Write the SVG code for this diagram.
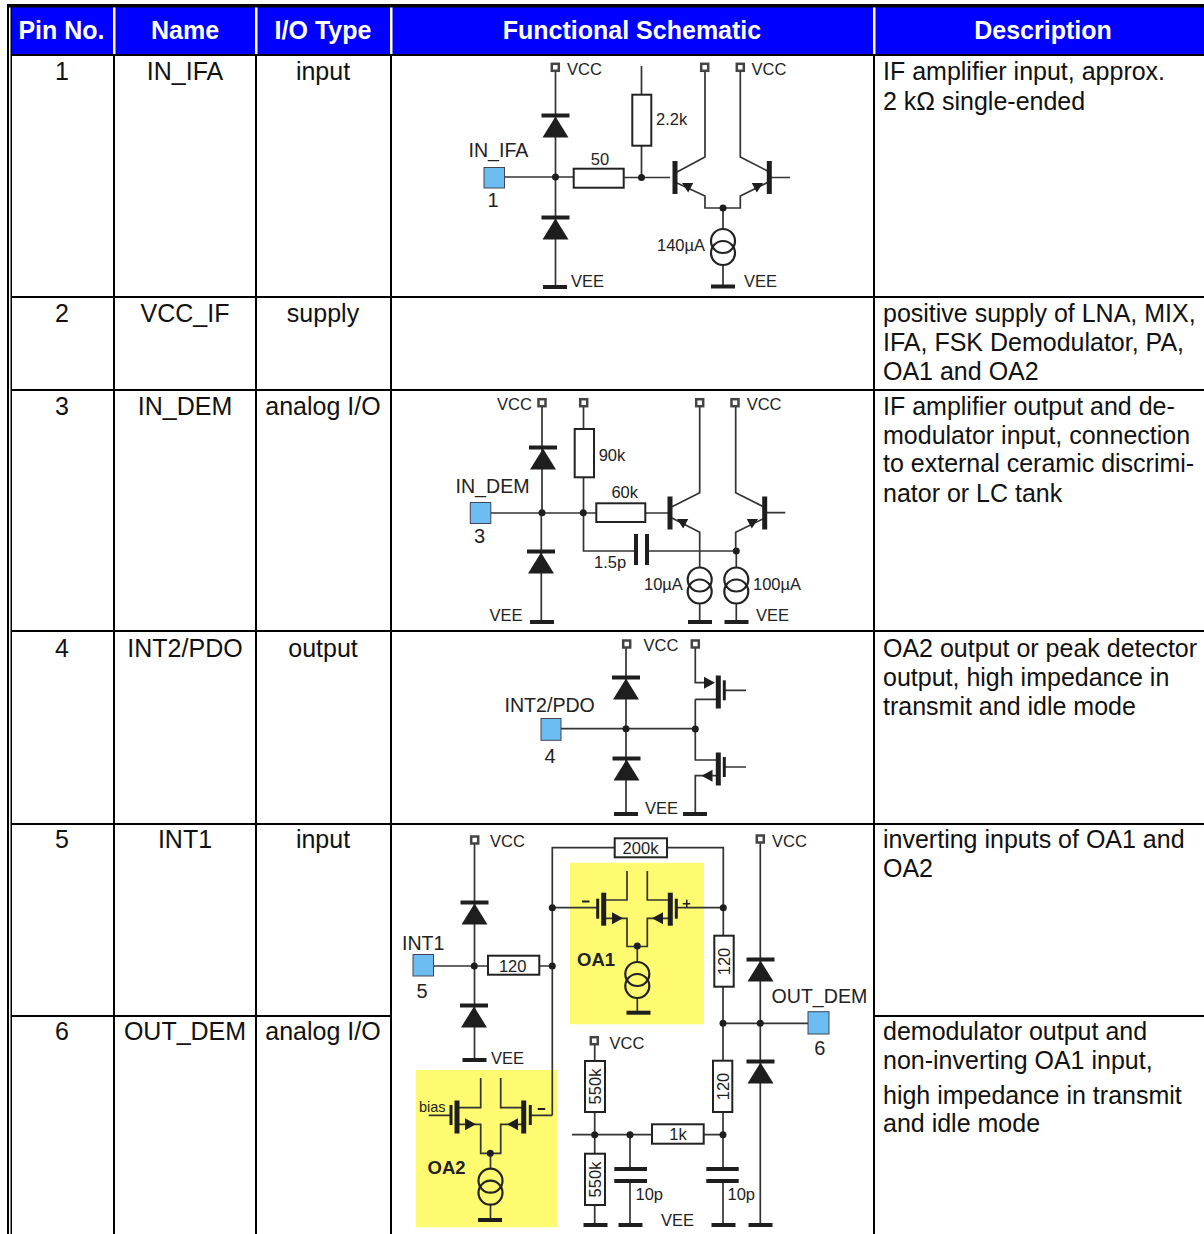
<svg xmlns="http://www.w3.org/2000/svg" width="1204" height="1234" viewBox="0 0 1204 1234">
<style>
text{font-family:"Liberation Sans",Arial,sans-serif;fill:#222}
.t{font-size:25px;fill:#111}
.m{text-anchor:middle}
.h{font-size:25px;font-weight:700;fill:#fff;text-anchor:middle}
.s{font-size:16.500px}
.l{font-size:19.600px}
.n{font-size:20px}
.b{font-size:18.500px;font-weight:700}
.w{fill:none;stroke:#333;stroke-width:1.700}
.r{fill:#fff;stroke:#222;stroke-width:2}
.p{fill:#6bbdf2;stroke:#445;stroke-width:1}
.k{fill:#1e1e1e}
.y{fill:#fffb70}
</style>
<defs>
<g id="diode"><rect x="-14" y="-2" width="28" height="4" class="k"/><path d="M0 1L13 22H-13Z" class="k"/></g>
<g id="cs"><circle cx="0" cy="0" r="12" fill="none" stroke="#222" stroke-width="2.200"/><circle cx="0" cy="12" r="12" fill="none" stroke="#222" stroke-width="2.200"/></g>
<circle id="dot" cx="0" cy="0" r="3.500" class="k"/>
<rect id="vcc" x="-3.500" y="-3.500" width="7" height="7" fill="#fff" stroke="#444" stroke-width="2.500"/>
<rect id="gnd" x="-12" y="-2" width="24" height="4" class="k"/>
<rect id="tb" x="-2.500" y="-16" width="5" height="33" class="k"/>
<rect id="gb" x="-1.500" y="-10" width="3" height="20" class="k"/>
<path id="arr" d="M0 0L11 -6V6Z" class="k"/>
<path id="arrR" d="M0 0L-11 -6V6Z" class="k"/>
</defs>
<rect width="1204" height="1234" fill="#fff"/>
<g id="table">
<rect x="11" y="7" width="1193" height="47" fill="#0000ff"/>
<g fill="#fff"><rect x="113" y="7" width="2.500" height="47"/><rect x="255" y="7" width="2.500" height="47"/><rect x="390" y="7" width="2.500" height="47"/><rect x="873" y="7" width="2.500" height="47"/></g>
<g fill="#000">
<rect x="7" y="4" width="1197" height="3.500"/>
<rect x="7" y="4" width="2" height="1230"/><rect x="10.500" y="4" width="1.500" height="1230"/>
<rect x="11" y="54" width="1193" height="2"/>
<rect x="11" y="296" width="1193" height="2"/><rect x="11" y="389" width="1193" height="2"/><rect x="11" y="630" width="1193" height="2"/><rect x="11" y="823" width="1193" height="2"/>
<rect x="11" y="1015" width="380" height="2"/><rect x="874" y="1015" width="330" height="2"/>
<rect x="113" y="55" width="2" height="1179"/><rect x="255" y="55" width="2" height="1179"/><rect x="390" y="55" width="2" height="1179"/><rect x="873" y="55" width="2" height="1179"/>
</g>
<text class="h" x="61.500" y="39">Pin No.</text><text class="h" x="185" y="39">Name</text><text class="h" x="323" y="39">I/O Type</text><text class="h" x="632" y="39">Functional Schematic</text><text class="h" x="1043" y="39">Description</text>
<g id="table-body" transform="translate(0 1)">
<text class="t m" x="62" y="79">1</text><text class="t m" x="185" y="79">IN_IFA</text><text class="t m" x="323" y="79">input</text>
<text class="t m" x="62" y="321">2</text><text class="t m" x="185" y="321">VCC_IF</text><text class="t m" x="323" y="321">supply</text>
<text class="t m" x="62" y="414">3</text><text class="t m" x="185" y="414">IN_DEM</text><text class="t m" x="323" y="414">analog I/O</text>
<text class="t m" x="62" y="656">4</text><text class="t m" x="185" y="656">INT2/PDO</text><text class="t m" x="323" y="656">output</text>
<text class="t m" x="62" y="847">5</text><text class="t m" x="185" y="847">INT1</text><text class="t m" x="323" y="847">input</text>
<text class="t m" x="62" y="1039">6</text><text class="t m" x="185" y="1039">OUT_DEM</text><text class="t m" x="323" y="1039">analog I/O</text>
<text class="t" x="883" y="79">IF amplifier input, approx.</text><text class="t" x="883" y="109">2 kΩ single-ended</text>
<text class="t" x="883" y="321">positive supply of LNA, MIX,</text><text class="t" x="883" y="350">IFA, FSK Demodulator, PA,</text><text class="t" x="883" y="379">OA1 and OA2</text>
<text class="t" x="883" y="414">IF amplifier output and de-</text><text class="t" x="883" y="443">modulator input, connection</text><text class="t" x="883" y="471">to external ceramic discrimi-</text><text class="t" x="883" y="501">nator or LC tank</text>
<text class="t" x="883" y="656">OA2 output or peak detector</text><text class="t" x="883" y="685">output, high impedance in</text><text class="t" x="883" y="714">transmit and idle mode</text>
<text class="t" x="883" y="847">inverting inputs of OA1 and</text><text class="t" x="883" y="876">OA2</text>
<text class="t" x="883" y="1039">demodulator output and</text><text class="t" x="883" y="1068">non-inverting OA1 input,</text><text class="t" x="883" y="1103">high impedance in transmit</text><text class="t" x="883" y="1131">and idle mode</text>
</g>
</g>
<g id="amp-backgrounds">
<rect class="y" x="570" y="862.700" width="134" height="161.600"/>
<rect class="y" x="415.700" y="1070" width="141.300" height="157.300"/>
</g>
<g id="connectors">
<path class="w" d="M555.500 72V287M505 177H573M624 177.500H670M641.500 66V95M641.500 146V177.500M677 172L705 157V72M677 183L705 196V208H740.300V196L769 181.700M769 171.700L740.300 157V72M771 177.500H790M723 208V229M723 265V286"/>
<path class="w" d="M542 406V513M541.300 513V622M491 513H596M583.500 406V429M583.500 477V551H635M647 551H736.300M645 513H670M672 506.700L699.700 492.700V406.700M672 518L699.700 532.300V568M699.700 603V622M735.700 406.700V492.700L764.700 507.300M764.700 518L735.700 532.300V551M736.300 551V568M736.300 603V622M767 512.700H785.300"/>
<path class="w" d="M626 648V814M561 728.700H695.300M695.300 648V682.700H710M695.300 699.300H717M695.300 699.300V760H717M724 690.300H746M717 775.700H695.300V814M724 767H746"/>
<path class="w" d="M474.500 844V1060M434 966H488M539 966H552.300M552.300 1115.300V847.700H615M667 847.700H723.300V936M723 987V1061M723 1112V1169M723 1181V1224M552.300 907.700H597M676 907.700H723.300M604 900H627V871M604 918.300H627V946.500H647.300V918.300H670M670 900H647.300V871M637.300 946.500V962M637.300 998V1012M723 1023.300H808M760.300 843V1224"/>
<path class="w" d="M428.700 1115.300H451M457 1107.700H480.700V1078M457 1124.300H480.700V1153.300H500.700V1124.300H523.700M523.700 1107.700H500.700V1078M490.500 1153.300V1168M490.500 1205V1220M530 1115.300H552.300M594.700 1045V1061M594.700 1112V1154M594.700 1205V1225M572 1134.700H652M704 1134.700H723M630 1134.700V1169M630 1181V1225"/>
</g>
<g id="schematic-1">
<use href="#vcc" x="555.300" y="67.300"/><use href="#vcc" x="704.700" y="67.300"/><use href="#vcc" x="740.300" y="67.300"/>
<use href="#diode" x="555.500" y="115.500"/><use href="#diode" x="555.500" y="217.500"/><use href="#gnd" x="555" y="287"/><use href="#gnd" x="723" y="286.500"/>
<rect class="p" x="484" y="167.500" width="20.500" height="20.500"/><rect class="r" x="573.700" y="168.700" width="50" height="19"/><rect class="r" x="632.300" y="94.700" width="19" height="51"/>
<use href="#dot" x="555.500" y="177"/><use href="#dot" x="641.500" y="177.500"/><use href="#dot" x="723" y="208"/>
<use href="#tb" x="675" y="177"/><use href="#tb" x="769.300" y="177"/><use href="#arr" transform="translate(682 183) rotate(28) scale(.9)"/><use href="#arr" transform="translate(763 183) rotate(152) scale(.9)"/>
<use href="#cs" x="723" y="241"/>
<text class="s" x="567" y="75">VCC</text><text class="s" x="751.500" y="75">VCC</text><text class="s" x="656" y="125">2.2k</text><text class="l" x="468.500" y="157">IN_IFA</text><text class="s m" x="600" y="165">50</text><text class="n m" x="493" y="207">1</text><text class="s" x="657" y="251">140µA</text><text class="s" x="571" y="287">VEE</text><text class="s" x="744" y="287">VEE</text>
</g>
<g id="schematic-3">
<use href="#vcc" x="542" y="402.700"/><use href="#vcc" x="583.700" y="402.700"/><use href="#vcc" x="699.700" y="402.700"/><use href="#vcc" x="735" y="402.700"/>
<use href="#diode" x="543" y="447.500"/><use href="#diode" x="541" y="551.500"/><use href="#gnd" x="542" y="622"/><use href="#gnd" x="700" y="622"/><use href="#gnd" x="736.500" y="622"/>
<rect class="p" x="470.300" y="502.500" width="20.500" height="21"/><rect class="r" x="574.700" y="429" width="19.300" height="48.300"/><rect class="r" x="596.300" y="503.300" width="49" height="18.700"/>
<use href="#dot" x="542" y="512.700"/><use href="#dot" x="583.300" y="512.700"/><use href="#dot" x="736.300" y="551"/>
<rect class="k" x="634" y="534" width="4" height="31"/><rect class="k" x="645" y="534" width="4" height="31"/>
<use href="#tb" x="670" y="512.500"/><use href="#tb" x="764.700" y="512.500"/><use href="#arr" transform="translate(677 519) rotate(28) scale(.9)"/><use href="#arr" transform="translate(758 519) rotate(152) scale(.9)"/>
<use href="#cs" x="699.700" y="579.500"/><use href="#cs" x="736.300" y="579.500"/>
<text class="s" x="497" y="410">VCC</text><text class="s" x="746.700" y="410">VCC</text><text class="s" x="598.700" y="461">90k</text><text class="l" x="455.500" y="492.700">IN_DEM</text><text class="s m" x="624.700" y="497.500">60k</text><text class="n m" x="479.500" y="542.500">3</text><text class="s" x="594" y="567.500">1.5p</text><text class="s" x="644" y="590">10µA</text><text class="s" x="753" y="590">100µA</text><text class="s" x="489.500" y="621">VEE</text><text class="s" x="756" y="621">VEE</text>
</g>
<g id="schematic-4">
<use href="#vcc" x="626.700" y="644"/><use href="#vcc" x="695.300" y="644"/>
<use href="#diode" x="626" y="677.500"/><use href="#diode" x="626.500" y="758.500"/><use href="#gnd" x="626" y="814"/><use href="#gnd" x="695" y="814"/>
<rect class="p" x="541" y="718.500" width="20" height="21.800"/>
<use href="#dot" x="626" y="728.700"/><use href="#dot" x="695.300" y="729"/>
<use href="#tb" x="718.300" y="691.500"/><use href="#gb" x="724.300" y="690.300"/><use href="#arrR" x="715" y="682.700"/>
<use href="#tb" x="718.300" y="768.500"/><use href="#gb" x="724.300" y="767"/><use href="#arr" x="701.500" y="775.700"/>
<text class="s" x="643.500" y="651">VCC</text><text class="l" x="504.500" y="712">INT2/PDO</text><text class="n m" x="550" y="762.700">4</text><text class="s" x="645" y="813.500">VEE</text>
</g>
<g id="schematic-5-6">
<use href="#vcc" x="474.700" y="840"/><use href="#vcc" x="760.300" y="839"/><use href="#vcc" x="594.300" y="1040.700"/>
<use href="#diode" x="474.500" y="902.500"/><use href="#diode" x="474" y="1005.500"/><use href="#diode" x="760.500" y="959.500"/><use href="#diode" x="760.500" y="1061.500"/>
<use href="#gnd" x="474.500" y="1060"/><use href="#gnd" x="638.500" y="1012.700"/><use href="#gnd" x="490" y="1220"/><use href="#gnd" x="595.500" y="1225"/><use href="#gnd" x="630.500" y="1225"/><use href="#gnd" x="723.500" y="1225"/><use href="#gnd" x="760.500" y="1225"/>
<rect class="p" x="413" y="954.500" width="20.500" height="21.500"/><rect class="p" x="808" y="1011.700" width="21" height="22.300"/>
<rect class="r" x="488" y="955.700" width="51.300" height="19"/><rect class="r" x="614.700" y="838.300" width="52.300" height="19"/><rect class="r" x="714.300" y="935.700" width="19.400" height="51"/><rect class="r" x="713" y="1060.700" width="19.300" height="51.300"/><rect class="r" x="585" y="1061" width="20" height="51"/><rect class="r" x="585" y="1153.700" width="20" height="51.300"/><rect class="r" x="652" y="1124.300" width="51.700" height="19.400"/>
<rect class="k" x="614.300" y="1167" width="32.700" height="4"/><rect class="k" x="614.300" y="1179" width="32.700" height="4"/><rect class="k" x="706.300" y="1167" width="32.400" height="4"/><rect class="k" x="706.300" y="1179" width="32.400" height="4"/>
<use href="#dot" x="474.300" y="966"/><use href="#dot" x="552.300" y="966"/><use href="#dot" x="552.300" y="907.700"/><use href="#dot" x="723.300" y="907.700"/><use href="#dot" x="723" y="1023.300"/><use href="#dot" x="760.300" y="1023.300"/><use href="#dot" x="637.300" y="946"/><use href="#dot" x="490.300" y="1153.300"/><use href="#dot" x="594.700" y="1134.700"/><use href="#dot" x="630" y="1134.700"/><use href="#dot" x="723" y="1134.700"/>
<use href="#tb" x="603.700" y="908.700"/><use href="#gb" x="597.700" y="908.700"/><use href="#arrR" x="623" y="918.300"/>
<use href="#tb" x="670.300" y="908.700"/><use href="#gb" x="676.300" y="908.700"/><use href="#arr" x="652" y="918.300"/>
<use href="#cs" x="637.300" y="974"/>
<use href="#tb" x="457" y="1116.500"/><use href="#gb" x="451" y="1115"/><use href="#arrR" x="476" y="1124.300"/>
<use href="#tb" x="523.700" y="1116.500"/><use href="#gb" x="530.300" y="1115"/><use href="#arr" x="507" y="1124.300"/>
<use href="#cs" x="490.500" y="1180.700"/>
<rect class="k" x="582" y="900.500" width="7.500" height="2"/><rect class="k" x="682.700" y="903" width="7.500" height="1.500"/><rect class="k" x="686" y="899.700" width="1.500" height="7.500"/><rect class="k" x="537.700" y="1108" width="7.500" height="2"/>
<text class="s" x="490" y="847">VCC</text><text class="s" x="772" y="847">VCC</text><text class="s" x="609.500" y="1049">VCC</text>
<text class="l" x="402" y="950">INT1</text><text class="n m" x="422" y="998">5</text><text class="l" x="771.500" y="1003">OUT_DEM</text><text class="n m" x="819.700" y="1054.500">6</text>
<text class="s m" x="512.700" y="971.500">120</text><text class="s m" x="640.500" y="854">200k</text><text class="s m" x="678" y="1139.500">1k</text>
<text class="s m" transform="translate(730 961.500) rotate(-90)">120</text><text class="s m" transform="translate(728.500 1086.500) rotate(-90)">120</text><text class="s m" transform="translate(601 1086.500) rotate(-90)">550k</text><text class="s m" transform="translate(601 1179.500) rotate(-90)">550k</text>
<text class="b" x="577" y="966">OA1</text><text class="b" x="427.500" y="1174">OA2</text><text x="419" y="1112" font-size="14.500">bias</text>
<text class="s" x="635.500" y="1200">10p</text><text class="s" x="727.500" y="1200">10p</text><text class="s" x="491" y="1064">VEE</text><text class="s" x="661" y="1226">VEE</text>
</g>
</svg>
